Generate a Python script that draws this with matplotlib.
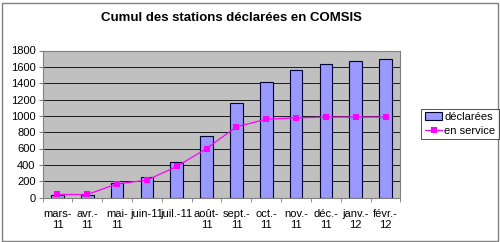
import matplotlib
matplotlib.use("Agg")
import matplotlib.pyplot as plt
from matplotlib.patches import Rectangle

plt.rcParams['font.family'] = ['Liberation Sans', 'DejaVu Sans']

categories = ["mars-\n11", "avr.-\n11", "mai-\n11", "juin-11", "juil.-11", "août-\n11",
              "sept.-\n11", "oct.-\n11", "nov.-\n11", "déc.-\n11", "janv.-\n12", "févr.-\n12"]
declarees = [33, 30, 180, 253, 433, 751, 1155, 1410, 1563, 1629, 1669, 1694]
en_service = [37, 37, 167, 212, 380, 600, 865, 959, 975, 984, 984, 984]
yticks = [0, 200, 400, 600, 800, 1000, 1200, 1400, 1600, 1800]

fig = plt.figure(figsize=(5.0, 2.42), dpi=100)
fig.patch.set_facecolor("white")
fig.add_artist(Rectangle((0.004, 0.004), 0.992, 0.985, transform=fig.transFigure,
                         fill=False, edgecolor="#808080", linewidth=1.0))

W, H = 500, 242
left, right, top, bottom = 42.5, 400.5, 50.5, 197.5
ax = fig.add_axes([left / W, 1 - bottom / H, (right - left) / W, (bottom - top) / H])
ax.set_facecolor("#c0c0c0")

x = list(range(len(categories)))
bars = ax.bar(x, declarees, width=0.42, color="#9999ff", edgecolor="#000033", linewidth=0.8,
              label="déclarées", zorder=3)
line, = ax.plot(x, en_service, color="#ff00ff", linewidth=0.9, marker="s", markersize=4,
                markeredgewidth=0, label="en service", zorder=4)

ax.set_xlim(-0.5, len(categories) - 0.5)
ax.set_ylim(0, 1800)
ax.set_yticks(yticks)
ax.set_yticklabels([str(v) for v in yticks], fontsize=8)
ax.set_xticks(x)
ax.set_xticklabels(categories, fontsize=8, linespacing=1.2)
ax.set_xticks([i - 0.5 for i in range(len(categories) + 1)], minor=True)
ax.yaxis.grid(True, color="#000000", linewidth=0.6, zorder=1)
ax.set_axisbelow(True)
for s in ["top", "right", "left", "bottom"]:
    ax.spines[s].set_color("#808080")
ax.tick_params(axis="y", length=3, color="#808080", pad=2)
ax.tick_params(axis="x", which="major", length=0, pad=8)
ax.tick_params(axis="x", which="minor", length=3, color="#808080")

fig.text(231 / W, 1 - 18 / H, "Cumul des stations déclarées en COMSIS", ha="center",
         va="center", fontsize=9.5, fontweight="bold")

leg = fig.legend([bars, line], ["déclarées", "en service"], loc="center",
                 bbox_to_anchor=(460 / W, 1 - 124 / H), fontsize=8,
                 frameon=True, fancybox=False, edgecolor="#000000", borderpad=0.3,
                 handlelength=1.6, handletextpad=0.15, labelspacing=0.35,
                 borderaxespad=0)
leg.get_frame().set_linewidth(0.6)

fig.savefig("out.png", dpi=100)
